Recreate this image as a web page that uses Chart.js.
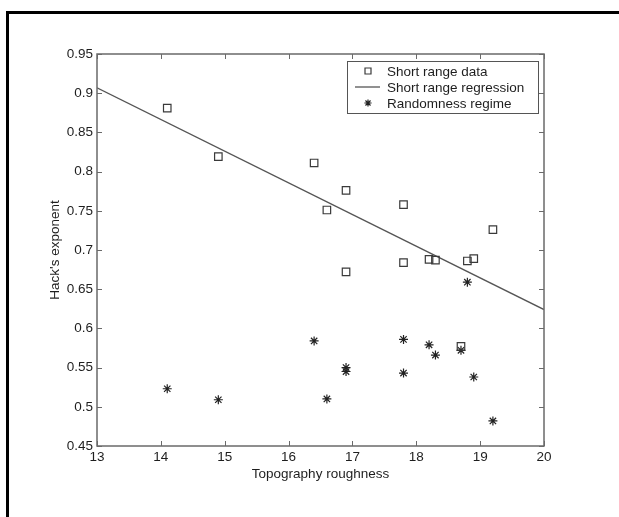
<!DOCTYPE html>
<html>
<head>
<meta charset="utf-8">
<script src="https://cdn.jsdelivr.net/npm/chart.js@4.4.1/dist/chart.umd.min.js"></script>
<style>
  html, body { margin: 0; padding: 0; background: #fff; }
  canvas { display: block; }
</style>
</head>
<body>
<canvas id="chart" width="619" height="517"></canvas>
<script>
// short range measurements (squares)
const shortX = [14.1, 14.9, 16.4, 16.6, 16.9, 16.9, 17.8, 17.8, 18.2, 18.3, 18.8, 18.9, 18.7, 19.2];
const shortY = [0.881, 0.819, 0.811, 0.751, 0.776, 0.672, 0.758, 0.684, 0.688, 0.687, 0.686, 0.689, 0.577, 0.726];

// randomness regime (asterisks)
const randX = [14.1, 14.9, 16.4, 16.6, 16.9, 16.9, 17.8, 17.8, 18.2, 18.3, 18.8, 18.7, 18.9, 19.2];
const randY = [0.523, 0.509, 0.584, 0.510, 0.550, 0.545, 0.586, 0.543, 0.579, 0.566, 0.659, 0.572, 0.538, 0.482];

// fitted line through the short range data
const regX = [13, 20];
const regY = [0.907, 0.624];

const xTicks = [13, 14, 15, 16, 17, 18, 19, 20];
const yTicks = [0.45, 0.5, 0.55, 0.6, 0.65, 0.7, 0.75, 0.8, 0.85, 0.9, 0.95];
const seriesNames = ['Short range data', 'Short range regression', 'Randomness regime'];

const pts = (xs, ys) => xs.map((x, i) => ({ x, y: ys[i] }));

const AXIS = '#6a6a6a';
const INK = '#1e1e1e';

Chart.defaults.font.family = '"Liberation Sans", Arial, sans-serif';
Chart.defaults.font.size = 13.5;
Chart.defaults.color = INK;

// white page, thin black frame on top/left, plot box with inward ticks, boxed legend
const framePlugin = {
  id: 'frame',
  beforeDraw(chart) {
    const ctx = chart.ctx;
    ctx.save();
    ctx.fillStyle = '#fff';
    ctx.fillRect(0, 0, chart.width, chart.height);
    ctx.fillStyle = '#000';
    ctx.fillRect(6, 11, chart.width - 6, 3);
    ctx.fillRect(6, 11, 3, chart.height - 11);
    ctx.restore();
  },
  afterDraw(chart) {
    const ctx = chart.ctx;
    const { left, right, top, bottom } = chart.chartArea;
    const xs = chart.scales.x, ys = chart.scales.y;
    const tl = 5;
    ctx.save();
    ctx.strokeStyle = AXIS;
    ctx.lineWidth = 1.5;
    ctx.strokeRect(left, top, right - left, bottom - top);
    ctx.beginPath();
    xTicks.forEach(v => {
      const px = Math.round(xs.getPixelForValue(v)) + 0.5;
      ctx.moveTo(px, bottom); ctx.lineTo(px, bottom - tl);
      ctx.moveTo(px, top); ctx.lineTo(px, top + tl);
    });
    yTicks.forEach(v => {
      const py = Math.round(ys.getPixelForValue(v)) + 0.5;
      ctx.moveTo(left, py); ctx.lineTo(left + tl, py);
      ctx.moveTo(right, py); ctx.lineTo(right - tl, py);
    });
    ctx.lineWidth = 1;
    ctx.stroke();

    // legend box
    const lw = 191, lh = 52;
    const lx = right - 6 - lw, ly = top + 7;
    ctx.fillStyle = '#fff';
    ctx.fillRect(lx, ly, lw, lh);
    ctx.strokeStyle = '#555';
    ctx.lineWidth = 1;
    ctx.strokeRect(lx + 0.5, ly + 0.5, lw, lh);

    const mx = lx + 21, tx = lx + 40;
    ctx.font = Chart.defaults.font.size + 'px ' + Chart.defaults.font.family;
    ctx.textBaseline = 'middle';
    ctx.textAlign = 'left';
    chart.data.datasets.forEach((ds, i) => {
      const ry = ly + 10 + i * 16;
      ctx.save();
      ctx.strokeStyle = ds.borderColor;
      ctx.lineWidth = ds.borderWidth;
      ctx.fillStyle = 'rgba(0,0,0,0)';
      if (ds.showLine) {
        ctx.beginPath();
        ctx.moveTo(mx - 13, ry);
        ctx.lineTo(mx + 12, ry);
        ctx.stroke();
      } else {
        Chart.helpers.drawPoint(ctx, {
          pointStyle: ds.pointStyle, radius: ds.pointRadius * 0.8,
          borderWidth: ds.borderWidth, rotation: 0
        }, mx, ry);
      }
      ctx.restore();
      ctx.fillStyle = INK;
      ctx.fillText(ds.label, tx, ry + 1);
    });
    ctx.restore();
  }
};

new Chart(document.getElementById('chart'), {
  type: 'scatter',
  data: {
    datasets: [
      {
        label: seriesNames[0],
        data: pts(shortX, shortY),
        pointStyle: 'rect',
        pointRadius: 5.3,
        borderColor: '#3a3a3a',
        backgroundColor: 'rgba(0,0,0,0)',
        borderWidth: 1.2,
        showLine: false
      },
      {
        label: seriesNames[1],
        data: pts(regX, regY),
        showLine: true,
        pointRadius: 0,
        borderColor: '#555',
        borderWidth: 1.3
      },
      {
        label: seriesNames[2],
        data: pts(randX, randY),
        pointStyle: 'star',
        pointRadius: 4.5,
        borderColor: '#222',
        backgroundColor: 'rgba(0,0,0,0)',
        borderWidth: 1.2,
        showLine: false
      }
    ]
  },
  options: {
    responsive: false,
    animation: false,
    devicePixelRatio: 1,
    layout: { padding: { left: 0, top: 54, right: 75, bottom: 31 } },
    plugins: { legend: { display: false }, tooltip: { enabled: false } },
    scales: {
      x: {
        type: 'linear',
        min: 13, max: 20,
        afterBuildTicks: s => { s.ticks = xTicks.map(v => ({ value: v })); },
        afterFit: s => { s.height = 40; },
        grid: { display: false, drawTicks: false },
        border: { display: false },
        ticks: { padding: 3, color: INK, callback: v => String(v) },
        title: {
          display: true, text: 'Topography roughness', color: INK,
          padding: { top: 0, bottom: 4 }
        }
      },
      y: {
        type: 'linear',
        min: 0.45, max: 0.95,
        afterBuildTicks: s => { s.ticks = yTicks.map(v => ({ value: v })); },
        afterFit: s => { s.width = 97; },
        grid: { display: false, drawTicks: false },
        border: { display: false },
        ticks: { padding: 4, color: INK, callback: v => String(+v.toFixed(2)) },
        title: {
          display: true, text: "Hack's exponent", color: INK,
          padding: { top: 47, bottom: 0 }
        }
      }
    }
  },
  plugins: [framePlugin]
});
</script>
</body>
</html>
